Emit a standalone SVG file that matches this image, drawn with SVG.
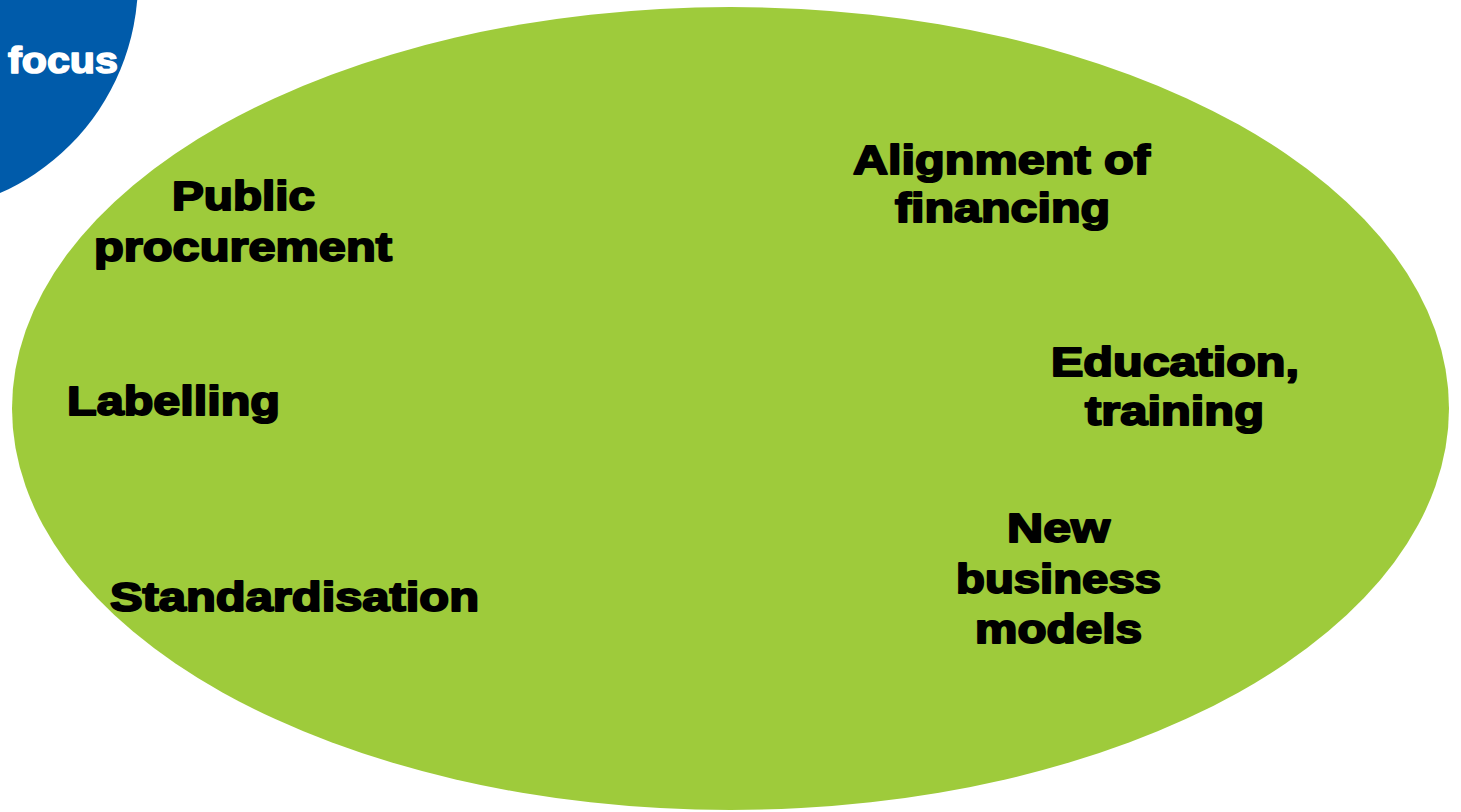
<svg xmlns="http://www.w3.org/2000/svg" width="1461" height="812" viewBox="0 0 1461 812">
  <style>
    .lbl { font-family: "Liberation Sans", Arial, sans-serif; font-weight: bold; font-size: 41px; fill: #000; stroke: #000; stroke-width: 2px; stroke-linejoin: round; text-anchor: middle; }
    .focus { font-family: "Liberation Sans", Arial, sans-serif; font-weight: bold; font-size: 37px; fill: #fff; stroke: #fff; stroke-width: 1.6px; stroke-linejoin: round; }
  </style>
  <rect width="1461" height="812" fill="#fff"/>
  <g id="focus-badge">
    <circle cx="-94" cy="-19" r="232" fill="#005BAA"/>
    <text class="focus" x="8" y="73" textLength="110" lengthAdjust="spacingAndGlyphs">focus</text>
  </g>
  <g id="field">
    <ellipse cx="730.5" cy="408.5" rx="718.5" ry="401.5" fill="#9ECB3B"/>
  </g>
  <g id="public-procurement">
    <text class="lbl" x="243.5" y="210" textLength="143" lengthAdjust="spacingAndGlyphs">Public</text>
    <text class="lbl" x="243" y="261" textLength="298" lengthAdjust="spacingAndGlyphs">procurement</text>
  </g>
  <g id="alignment-of-financing">
    <text class="lbl" x="1001.5" y="174" textLength="297" lengthAdjust="spacingAndGlyphs">Alignment of</text>
    <text class="lbl" x="1002.5" y="222" textLength="215" lengthAdjust="spacingAndGlyphs">financing</text>
  </g>
  <g id="education-training">
    <text class="lbl" x="1175" y="376" textLength="248" lengthAdjust="spacingAndGlyphs">Education,</text>
    <text class="lbl" x="1174.5" y="425" textLength="179" lengthAdjust="spacingAndGlyphs">training</text>
  </g>
  <g id="labelling">
    <text class="lbl" x="173.5" y="415" textLength="213" lengthAdjust="spacingAndGlyphs">Labelling</text>
  </g>
  <g id="standardisation">
    <text class="lbl" x="294.5" y="611" textLength="369" lengthAdjust="spacingAndGlyphs">Standardisation</text>
  </g>
  <g id="new-business-models">
    <text class="lbl" x="1058.5" y="542" textLength="103" lengthAdjust="spacingAndGlyphs">New</text>
    <text class="lbl" x="1058.5" y="593" textLength="205" lengthAdjust="spacingAndGlyphs">business</text>
    <text class="lbl" x="1058.5" y="643" textLength="167" lengthAdjust="spacingAndGlyphs">models</text>
  </g>
</svg>
